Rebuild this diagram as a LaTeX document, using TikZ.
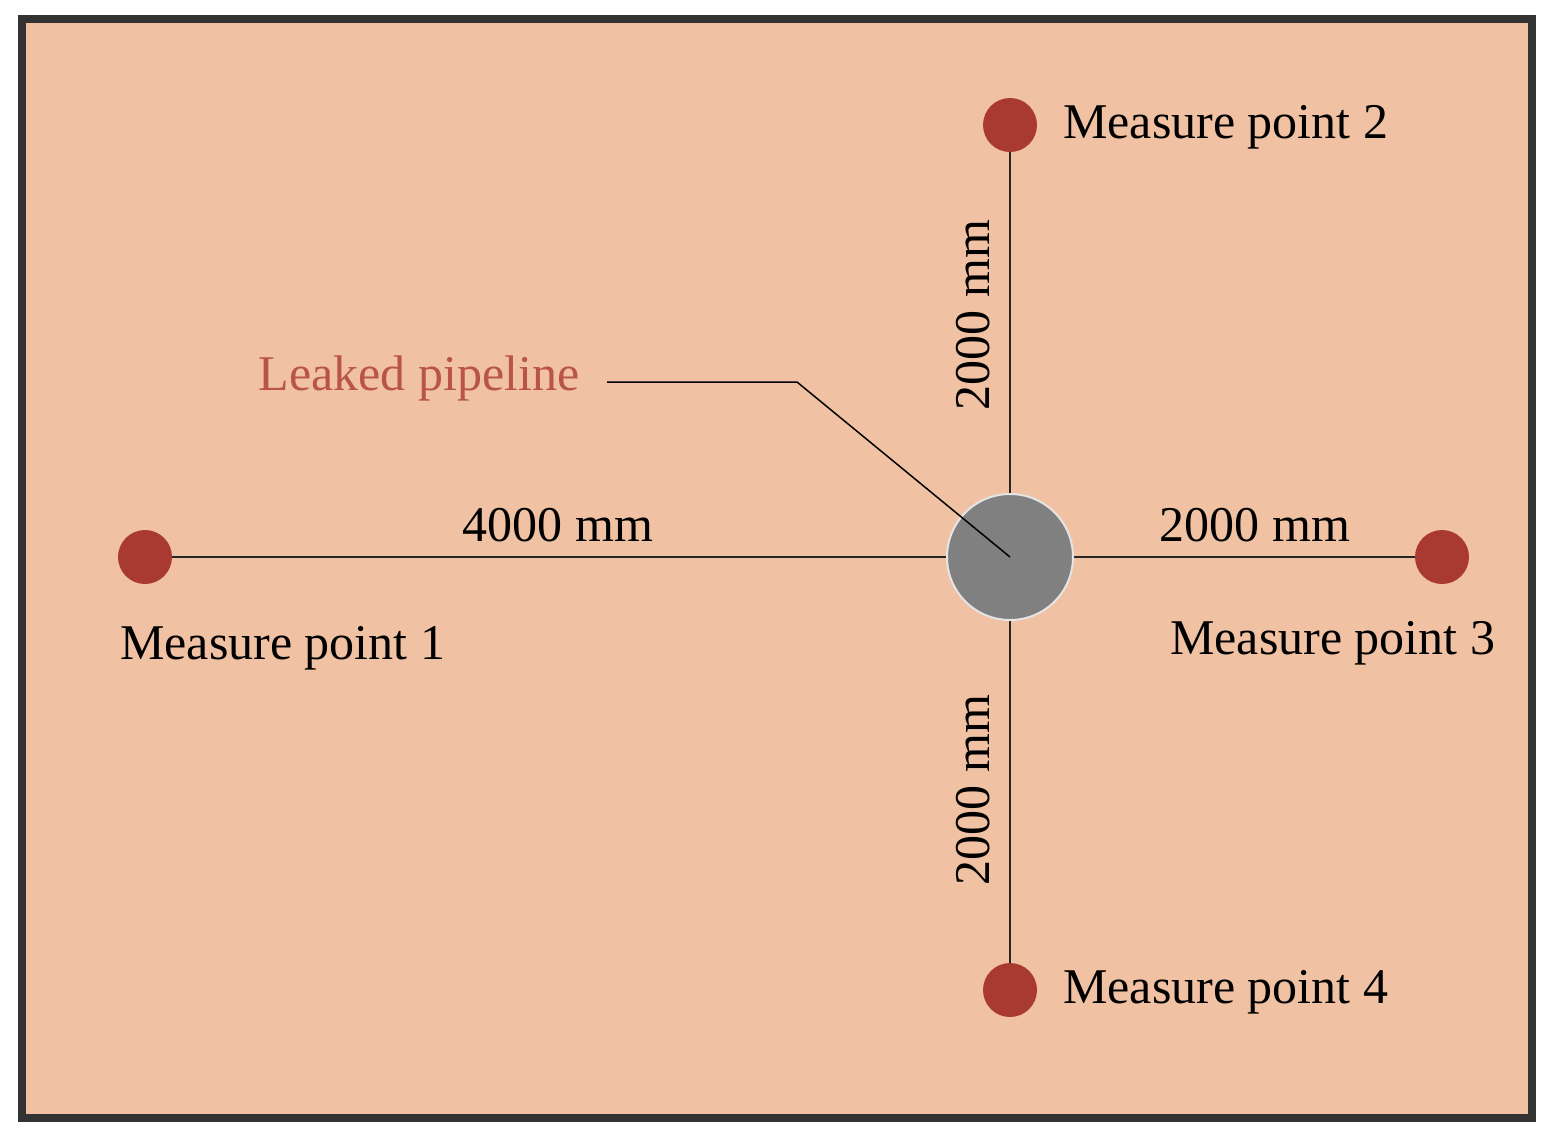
\documentclass[tikz,border=0pt]{standalone}
\usepackage{fontspec}
\setmainfont{Liberation Serif}
\begin{document}
\begin{tikzpicture}[x=0.75pt,y=-0.75pt,
  mp/.style={circle,fill=ptred,minimum size=54*0.75pt,inner sep=0pt},
  lbl/.style={font=\fontsize{37.5}{44}\selectfont,inner sep=0pt},
  ln/.style={line width=1.5*0.75pt,black!85}]
\definecolor{ptred}{RGB}{168,58,50}
\definecolor{bg}{RGB}{240,193,162}
\definecolor{leak}{RGB}{185,85,72}
\useasboundingbox (0,0) rectangle (1552,1140);
\fill[white] (0,0) rectangle (1552,1140);
\draw[line width=8*0.75pt,fill=bg,draw=black!80] (22,19) rectangle (1532,1118);
\node[mp] (p1) at (145,557) {};
\node[mp] (p2) at (1010,125) {};
\node[mp] (p3) at (1442,557) {};
\node[mp] (p4) at (1010,990) {};
\coordinate (c) at (1010,557);
\draw[ln] (p1) -- (c); \draw[ln] (p3) -- (c);
\draw[ln] (p2) -- (c); \draw[ln] (p4) -- (c);
\node[circle,fill=black!50,draw=white!80!gray,line width=1.5,minimum size=126*0.75pt,inner sep=0pt] (pipe) at (c) {};
\node[lbl,anchor=west] (t2) at (1063,127) {Measure point 2};
\node[lbl,anchor=west] (t4) at (1063,992) {Measure point 4};
\node[lbl,anchor=west] (t1) at (120,648) {Measure point 1};
\node[lbl,anchor=west] (t3) at (1170,643) {Measure point 3};
\node[lbl] (d1) at (558,525) {4000 mm};
\node[lbl] (d3) at (1255,525) {2000 mm};
\node[lbl,rotate=90] (d2) at (973,315) {2000 mm};
\node[lbl,rotate=90] (d4) at (973,790) {2000 mm};
\node[lbl,text=leak] (lk) at (419,378) {Leaked pipeline};
\coordinate (k1) at (607,382);
\coordinate (k2) at (797,382);
\draw[line width=1.5*0.75pt] (k1) -- (k2) -- (c);
\end{tikzpicture}
\end{document}
